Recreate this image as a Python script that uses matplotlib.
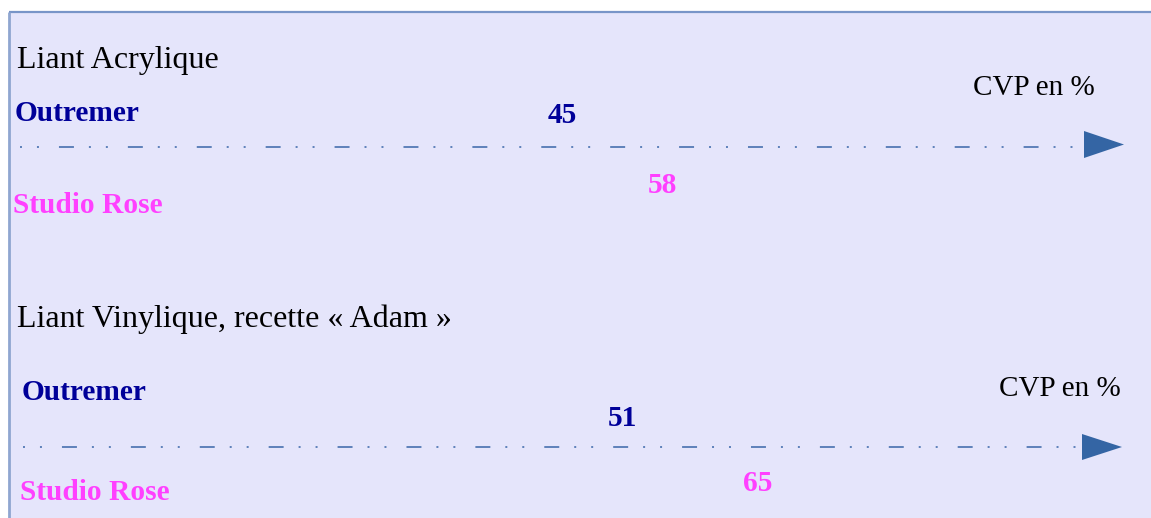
import matplotlib.pyplot as plt
from matplotlib.patches import Rectangle, Polygon

W, H = 1151, 518
DPI = 100

# data
panel_titles = ["Liant Acrylique", "Liant Vinylique, recette \u00ab Adam \u00bb"]
pigments = ["Outremer", "Studio Rose"]
cvp_outremer = [45, 51]
cvp_rose = [58, 65]
axis_label = "CVP en %"

# pixel scale of each panel's value axis (px = offset + scale * value)
panel_offset = [216, 131]
panel_scale = [7.69, 9.64]

BG = "#E5E5FB"
BORDER = "#7895C8"
LINE = "#3A66A8"
BLUE = "#000099"
PINK = "#FF40FF"
SERIF = "Liberation Serif"

fig = plt.figure(figsize=(W / DPI, H / DPI), dpi=DPI)
fig.patch.set_facecolor("white")

# layout axes in pixel coordinates
lay = fig.add_axes([0, 0, 1, 1])
lay.set_xlim(0, W)
lay.set_ylim(H, 0)
lay.axis("off")

lay.add_patch(Rectangle((9, 12), W, H, facecolor=BG, edgecolor="none"))
lay.plot([9, W], [12, 12], color=BORDER, lw=1.6, solid_capstyle="butt")
lay.plot([9, 9], [12, H], color="#8FA6D0", lw=2.0, solid_capstyle="butt")

# panel layout: title, outremer label, rose label, cvp label, line
layout = [
    dict(title=(17, 68), outre=(15, 121), rose=(13, 213), cvp=(973, 95),
         line=(20, 1085, 146.5), head=(1084, 1124, 131, 158),
         val_out=123, val_rose=193),
    dict(title=(17, 327), outre=(22, 400), rose=(20, 500), cvp=(999, 396),
         line=(23, 1082, 447), head=(1082, 1122, 434, 460),
         val_out=426, val_rose=491),
]

for i, L in enumerate(layout):
    lay.text(*L["title"], panel_titles[i], fontsize=23, family=SERIF,
             color="black", va="baseline", ha="left")
    lay.text(*L["outre"], pigments[0], fontsize=21.2, family=SERIF,
             weight="bold", color=BLUE, va="baseline", ha="left")
    lay.text(*L["rose"], pigments[1], fontsize=21.2, family=SERIF,
             weight="bold", color=PINK, va="baseline", ha="left")
    lay.text(*L["cvp"], axis_label, fontsize=21, family=SERIF,
             color="black", va="baseline", ha="left")
    x0, x1, y = L["line"]
    lay.plot([x0, x1], [y, y], color=LINE, lw=1.1, solid_capstyle="butt",
             dashes=(1.3, 9.8, 1.3, 13.1, 9.8, 9.8))
    hx0, hx1, hy0, hy1 = L["head"]
    lay.add_patch(Polygon([(hx0, hy0), (hx1, (hy0 + hy1) / 2), (hx0, hy1)],
                          closed=True, facecolor="#3465A4", edgecolor="none"))

    # value axis for this panel
    ax = fig.add_axes([0, 0, 1, 1])
    ax.set_xlim(-panel_offset[i] / panel_scale[i],
                (W - panel_offset[i]) / panel_scale[i])
    ax.set_ylim(H, 0)
    ax.axis("off")
    ax.text(cvp_outremer[i], L["val_out"], str(cvp_outremer[i]), fontsize=21.2,
            family=SERIF, weight="bold", color=BLUE, ha="center", va="baseline")
    ax.text(cvp_rose[i], L["val_rose"], str(cvp_rose[i]), fontsize=21.2,
            family=SERIF, weight="bold", color=PINK, ha="center", va="baseline")

fig.savefig("out.png", dpi=DPI, facecolor=fig.get_facecolor())
